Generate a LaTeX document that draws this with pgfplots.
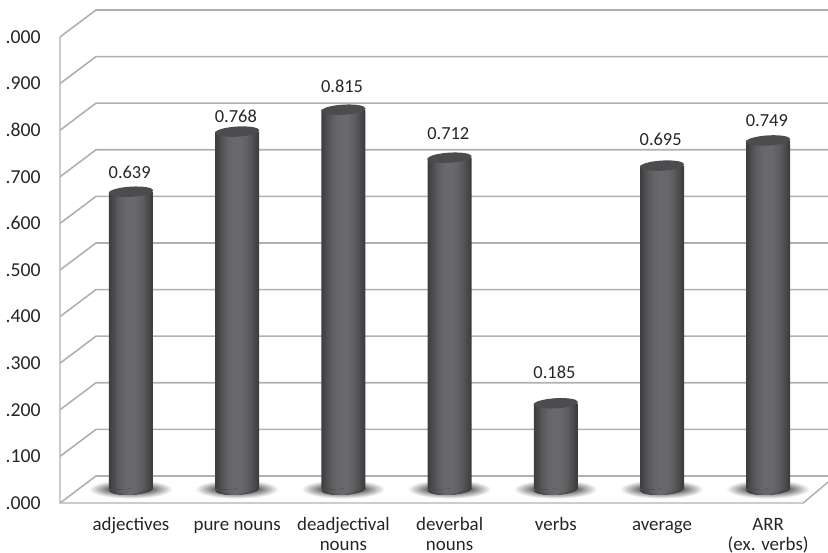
\documentclass[border=0pt]{standalone}
\usepackage{pgfplots}
\pgfplotsset{compat=1.18}
\usepackage{pgfplotstable}
\usepackage{fontspec}
\setmainfont{Carlito}
\definecolor{wallgray}{HTML}{B0B0B0}
\definecolor{txt}{HTML}{262626}
\definecolor{cyledge}{HTML}{3E3E40}
\definecolor{cylmid}{HTML}{69696C}
\definecolor{cyltop}{HTML}{4C4C4E}
\colorlet{c0}{cylmid!0!cyledge}
\colorlet{c1}{cylmid!15!cyledge}
\colorlet{c2}{cylmid!30!cyledge}
\colorlet{c3}{cylmid!45!cyledge}
\colorlet{c4}{cylmid!58!cyledge}
\colorlet{c5}{cylmid!69!cyledge}
\colorlet{c6}{cylmid!79!cyledge}
\colorlet{c7}{cylmid!87!cyledge}
\colorlet{c8}{cylmid!93!cyledge}
\colorlet{c9}{cylmid!97!cyledge}
\colorlet{c10}{cylmid!99!cyledge}
\colorlet{c11}{cylmid}
\colorlet{s0}{black!4}
\colorlet{s1}{black!10}
\colorlet{s2}{black!16}
\colorlet{s3}{black!22}
\colorlet{s4}{black!28}
\colorlet{s5}{black!34}
\colorlet{s6}{black!40}
\colorlet{s7}{black!46}
\colorlet{s8}{black!52}
\colorlet{s9}{black!56}
\pgfdeclareplotmark{cylshadow}{%
  \pgfpathellipse{\pgfqpoint{0pt}{0pt}}{\pgfqpoint{31pt}{0pt}}{\pgfqpoint{0pt}{7pt}}%
  \pgfusepathqfill}
\pgfdeclareplotmark{cylbase}{%
  \pgfpathmoveto{\pgfqpoint{-16.5pt}{0.5pt}}%
  \pgfpathlineto{\pgfqpoint{-16.5pt}{0pt}}%
  \pgfpatharc{180}{360}{16.5pt and 4pt}%
  \pgfpathlineto{\pgfqpoint{16.5pt}{0.5pt}}%
  \pgfpathclose\pgfusepathqfill}
\pgfdeclareplotmark{cyltopmark}{%
  \pgfpathellipse{\pgfqpoint{0pt}{0pt}}{\pgfqpoint{16.6pt}{1pt}}{\pgfqpoint{-0.23pt}{3.8pt}}%
  \pgfusepathqfill}
\pgfplotstableread{
x v off
0 0.639 6.25
1 0.768 3.25
2 0.815 9.25
3 0.712 10
4 0.185 15.25
5 0.695 11.5
6 0.749 7
}\bars
\pgfplotstableread{
x v
0 0
1 0
2 0
3 0
4 0
5 0
6 0
}\bases
\pgfplotsset{chartframe/.style={
  at={(45pt,37.5pt)},anchor=south west,
  scale only axis,width=576pt,height=377.25pt,
  xmin=-0.6685,xmax=6.563,ymin=-0.02897,ymax=1.0504,
  clip=false,
  axis line style={draw=none},
  major tick length=0pt,
}}
\begin{document}
\begin{tikzpicture}
% back axis: walls, floor and shadows
\begin{axis}[chartframe,xtick=\empty,ytick=\empty]
\pgfplotsinvokeforeach{0,...,10}{
  \addplot[wallgray,line width=1.2pt,forget plot] coordinates {(-0.6685,{-0.029+0.1*#1}) (-0.3296,{0.029+0.1*#1}) (6.563,{0.029+0.1*#1})};
}
\addplot[wallgray,line width=1.1pt,forget plot] coordinates {(-0.6685,0.971) (-0.6685,-0.029) (6.33,-0.029) (6.563,0.016)};
\pgfplotsinvokeforeach{0,...,9}{
  \addplot[only marks,mark=cylshadow,mark options={fill=s#1,xscale={1-0.05*#1},yscale={1-0.07*#1}},forget plot] table[x=x,y=v]{\bases};
}
\end{axis}
% front axis: cylinders, labels and ticks
\begin{axis}[chartframe,
  xtick={0,1,2,3,4,5,6},
  xticklabels={\strut adjectives,\strut pure nouns,{\strut deadjectival\\nouns},{\strut deverbal\\nouns},\strut verbs,\strut average,{\strut ARR\\(ex. verbs)}},
  xticklabel style={align=center,font=\fontsize{14.2}{15}\selectfont,text=txt,yshift=-8.75pt,inner ysep=1pt},
  ytick={-0.029,0.071,0.171,0.271,0.371,0.471,0.571,0.671,0.771,0.871,0.971},
  yticklabels={.000,.100,.200,.300,.400,.500,.600,.700,.800,.900,.000},
  yticklabel style={font=\fontsize{14.8}{15}\selectfont,text=txt,anchor=east,xshift=-11pt},
  nodes near coords style={font=\fontsize{13.8}{15}\selectfont,text=txt},
  /pgf/number format/assume math mode=true,
  /pgf/number format/fixed,/pgf/number format/fixed zerofill,/pgf/number format/precision=3,
]
\pgfplotsinvokeforeach{0,...,11}{
  \addplot[ybar,bar width={(33-2.75*#1)*1pt},draw=none,fill=c#1,forget plot] table[x=x,y=v]{\bars};
}
\pgfplotsinvokeforeach{0,...,11}{
  \addplot[only marks,mark=cylbase,mark options={fill=c#1,xscale={1-#1/12},rotate=3},forget plot] table[x=x,y=v]{\bases};
}
\addplot[only marks,mark=cyltopmark,mark options={fill=cyltop},nodes near coords,
  visualization depends on={\thisrow{off}\as\laboff},
  every node near coord/.append style={yshift=\laboff pt,xshift=-1pt},forget plot] table[x=x,y=v]{\bars};
\end{axis}
\pgfresetboundingbox
\useasboundingbox (0pt,0pt) rectangle (621pt,414.75pt);
\end{tikzpicture}
\end{document}
